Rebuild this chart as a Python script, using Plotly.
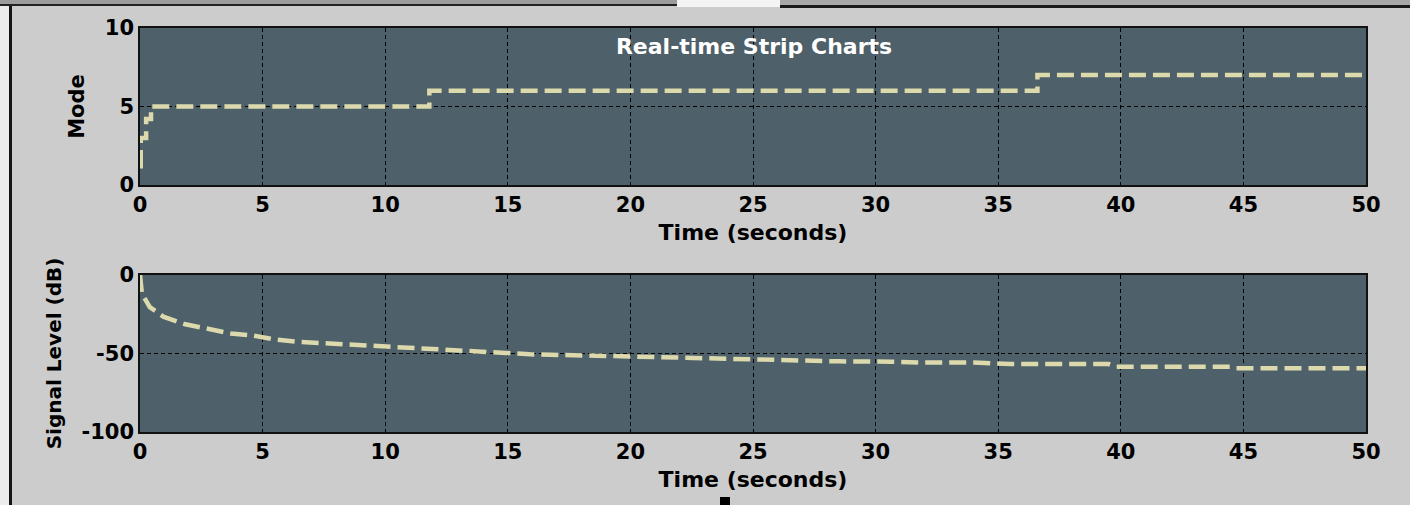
import plotly.graph_objects as go
from plotly.subplots import make_subplots

# ---- data ----
mode_time = [0, 0.03, 0.25, 0.45, 11.8, 36.6, 50]
mode_value = [1.2, 3, 4.2, 5, 6, 7, 7]

signal_time = [0, 0.04, 0.08, 0.4, 0.95, 1.85, 2.7, 3.7, 4.6, 5.4, 6.4, 7.6, 9.1, 10.5,
               11.8, 13.2, 14.5, 15.9, 18.6, 20.5, 22.6, 24.5, 25.8, 28.5, 30.6, 31.9,
               34.0, 35.5, 39.5, 39.8, 44.5, 44.7, 50]
signal_db = [0, -6, -12, -20.5, -26.5, -31.4, -34.4, -37.2, -38.6, -40.8, -42.5, -43.5, -45,
             -45.9, -47.1, -48, -49.5, -50.5, -51.4, -52.2, -53.1, -53.3, -54.1, -55, -55.2,
             -55.8, -55.8, -56.7, -56.7, -58.4, -58.4, -59.4, -59.4]

x_ticks = [0, 5, 10, 15, 20, 25, 30, 35, 40, 45, 50]
mode_ticks = [0, 5, 10]
db_ticks = [-100, -50, 0]
db_tick_labels = ["-100", "-50", "0"]

W, H = 1410, 505
ML, MR, MT, MB = 140, 44, 28, 73
PW, PH = W - ML - MR, H - MT - MB


def px(xp):
    return (xp - ML) / PW


def py(yp):
    return (H - MB - yp) / PH


LINE = "#DCD9AD"
PLOTBG = "#4E6069"
PAPER = "#CCCCCC"
FONT = "DejaVu Sans"

fig = make_subplots(rows=2, cols=1)

fig.add_trace(go.Scatter(x=mode_time, y=mode_value, mode="lines", line_shape="hv",
                         line=dict(color=LINE, width=4.5, dash="17px,7px"),
                         showlegend=False), row=1, col=1)
fig.add_trace(go.Scatter(x=signal_time, y=signal_db, mode="lines",
                         line=dict(color=LINE, width=4.5, dash="17px,7px"),
                         showlegend=False), row=2, col=1)

top_dom = [py(185), py(28)]
bot_dom = [py(432), py(275)]

common_x = dict(range=[0, 50], tickvals=x_ticks, showgrid=True, gridcolor="black",
                griddash="4px,3px", gridwidth=1, showline=True, mirror=True,
                linecolor="#111111", linewidth=1.5, ticks="", zeroline=False,
                tickfont=dict(family=FONT, size=21, color="black", weight="bold"),
                title=dict(text="Time (seconds)", standoff=9,
                           font=dict(family=FONT, size=22, color="black", weight="bold")))
common_y = dict(showgrid=True, gridcolor="black", griddash="4px,3px", gridwidth=1,
                showline=True, mirror=True, linecolor="#111111", linewidth=1.5,
                ticks="", zeroline=False,
                tickfont=dict(family=FONT, size=21, color="black", weight="bold"))

fig.update_xaxes(**common_x)
fig.update_yaxes(**common_y)
fig.update_yaxes(range=[0, 10], tickvals=mode_ticks, domain=top_dom,
                 title=dict(text="Mode", standoff=14,
                            font=dict(family=FONT, size=21, color="black", weight="bold")),
                 row=1, col=1)
fig.update_yaxes(range=[-100, 0], tickvals=db_ticks, ticktext=db_tick_labels, domain=bot_dom,
                 title=dict(text="Signal Level (dB)", standoff=14,
                            font=dict(family=FONT, size=20, color="black", weight="bold")),
                 row=2, col=1)

# window-frame decorations from the screenshot
shapes = []


def rect(x0, y0, x1, y1, color):
    shapes.append(dict(type="rect", xref="paper", yref="paper", x0=px(x0), x1=px(x1),
                       y0=py(y1), y1=py(y0), fillcolor=color, line=dict(width=0),
                       layer="above"))


rect(0, 0, 677, 4, "#9C9C9C")
rect(0, 4, 677, 6, "#222222")
rect(677, 0, 780, 7, "#F4F4F4")
rect(780, 0, 1410, 5, "#A8A8A8")
rect(780, 5, 1410, 8, "#1A1A1A")
rect(0, 6, 9, 505, "#ECECEC")
rect(9, 6, 12, 505, "#151515")
rect(720, 497, 730, 505, "#000000")

fig.update_layout(
    width=W, height=H,
    margin=dict(l=ML, r=MR, t=MT, b=MB),
    paper_bgcolor=PAPER, plot_bgcolor=PLOTBG,
    title=dict(text="Real-time Strip Charts", x=px(754), xref="paper", xanchor="center",
               y=1 - 46 / H, yref="container", yanchor="middle",
               font=dict(family=FONT, size=22, color="white", weight="bold")),
    shapes=shapes,
)

fig.write_html("out.html", config={"displayModeBar": False},
               post_script="document.body.style.margin='0';document.body.style.overflow='hidden';")
